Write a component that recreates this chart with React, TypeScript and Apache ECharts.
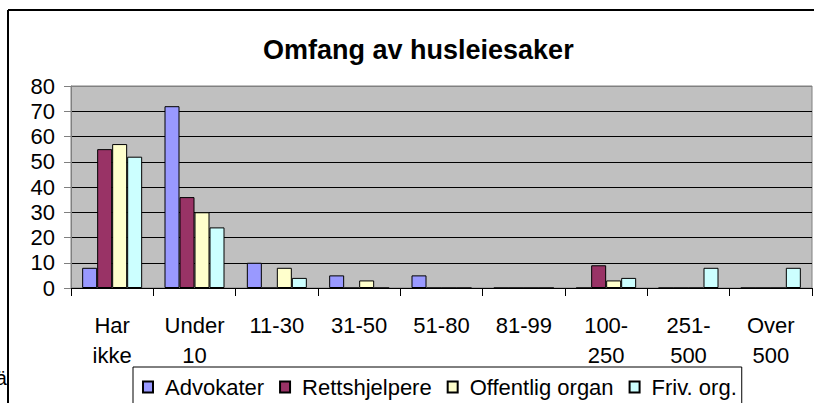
import React, { useEffect, useRef } from "react";
import * as echarts from "echarts";

const categories = ["Har\nikke", "Under\n10", "11-30", "31-50", "51-80", "81-99", "100-\n250", "251-\n500", "Over\n500"];
const seriesNames = ["Advokater", "Rettshjelpere", "Offentlig organ", "Friv. org."];
const advokater = [8, 72, 10, 5, 5, 0, 0, 0, 0];
const rettshjelpere = [55, 36, 0, 0, 0, 0, 9, 0, 0];
const offentligOrgan = [57, 30, 8, 3, 0, 0, 3, 0, 0];
const frivOrg = [52, 24, 4, 0, 0, 0, 4, 8, 8];
const colors = ["#9999FF", "#993366", "#FFFFCC", "#CCFFFF"];
const yTicks = { min: 0, max: 80, interval: 10 };
const titleText = "Omfang av husleiesaker";
const sideText = "rä";

export default function App() {
  const ref = useRef<HTMLDivElement>(null);
  useEffect(() => {
    if (!ref.current) return;
    const chart = echarts.init(ref.current, null, { renderer: "svg" });
    const font = "Liberation Sans, Arial, sans-serif";
    const data = [advokater, rettshjelpere, offentligOrgan, frivOrg];
    chart.setOption({
      animation: false,
      backgroundColor: "#ffffff",
      textStyle: { fontFamily: font },
      title: {
        text: titleText,
        left: 258,
        top: 31,
        textStyle: { fontFamily: font, fontSize: 27, fontWeight: "bold", color: "#000" },
      },
      grid: {
        left: 71,
        top: 86,
        right: 2,
        bottom: 115,
        show: true,
        backgroundColor: "#C0C0C0",
        borderColor: "#808080",
        borderWidth: 1,
      },
      legend: {
        data: seriesNames,
        left: 133,
        top: 367,
        padding: [9, 5, 12, 9],
        itemGap: 15,
        itemWidth: 10,
        itemHeight: 11,
        icon: "rect",
        borderColor: "#000",
        borderWidth: 1,
        borderRadius: 0,
        backgroundColor: "#fff",
        textStyle: { fontFamily: font, fontSize: 22, color: "#000", padding: [0, 0, 0, 7] },
      },
      xAxis: {
        type: "category",
        data: categories,
        axisLine: { lineStyle: { color: "#000", width: 1 } },
        axisTick: { show: true, length: 8, lineStyle: { color: "#000" } },
        axisLabel: {
          interval: 0,
          margin: 22,
          fontFamily: font,
          fontSize: 22,
          lineHeight: 30,
          color: "#000",
        },
      },
      yAxis: {
        type: "value",
        min: yTicks.min,
        max: yTicks.max,
        interval: yTicks.interval,
        axisLine: { show: true, lineStyle: { color: "#808080", width: 1 } },
        axisTick: { show: true, length: 7, lineStyle: { color: "#808080" } },
        axisLabel: { margin: 16, fontFamily: font, fontSize: 22, color: "#000" },
        splitLine: {
          show: true,
          lineStyle: {
            color: ["#000", "#000", "#000", "#000", "#000", "#000", "#000", "#000", "#808080"],
            width: 1,
          },
        },
      },
      series: seriesNames.map((name, i) => ({
        name,
        type: "bar",
        data: data[i],
        barWidth: 15,
        barGap: "0%",
        itemStyle: { color: colors[i], borderColor: "#000", borderWidth: 1 },
      })),
      graphic: {
        elements: [
          {
            type: "line",
            shape: { x1: 8, y1: 10, x2: 8, y2: 403 },
            style: { stroke: "#000", lineWidth: 2 },
            z: 50,
          },
          {
            type: "line",
            shape: { x1: 8, y1: 10, x2: 814, y2: 10 },
            style: { stroke: "#000", lineWidth: 2 },
            z: 50,
          },
          {
            type: "text",
            x: 7,
            y: 378,
            style: {
              text: sideText,
              fontFamily: font,
              fontSize: 20,
              fill: "#000",
              align: "right",
              verticalAlign: "middle",
            },
          },
        ],
      },
    });
    return () => chart.dispose();
  }, []);
  return <div ref={ref} style={{ position: "fixed", left: 0, top: 0, width: 814, height: 403 }} />;
}
